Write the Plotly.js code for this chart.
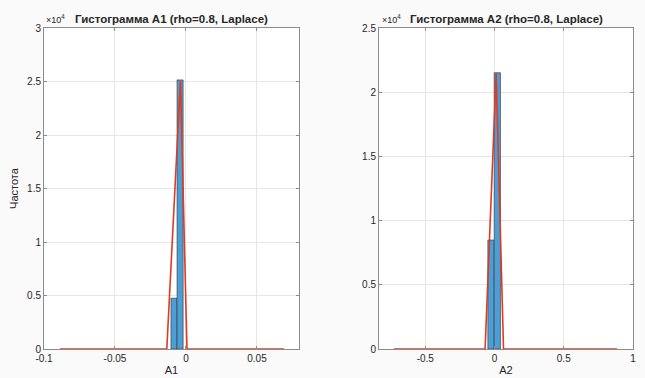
<!DOCTYPE html>
<html><head><meta charset="utf-8">
<script src="https://cdn.plot.ly/plotly-3.0.1.min.js"></script>
<style>html,body{margin:0;padding:0;background:#fafafa}</style>
</head><body>
<div id="chart" style="width:645px;height:378px"></div>
<script>
// Histogram A1
const a1BinCenters = [-0.00845, -0.00415];
const a1Counts = [4750, 25150];
const a1BinWidth = 0.0043;
const a1FitX = [-0.0887, -0.0135, -0.0039, 0.0007, 0.069];
const a1FitY = [0, 0, 25100, 0, 0];
// Histogram A2
const a2BinCenters = [-0.0253, 0.0203];
const a2Counts = [8490, 21520];
const a2BinWidth = 0.0456;
const a2FitX = [-0.727, -0.068, 0.012, 0.065, 0.885];
const a2FitY = [0, 0, 21500, 0, 0];

const yTicks1 = [0, 5000, 10000, 15000, 20000, 25000, 30000];
const yTickText1 = ['0', '0.5', '1', '1.5', '2', '2.5', '3'];
const yTicks2 = [0, 5000, 10000, 15000, 20000, 25000];
const yTickText2 = ['0', '0.5', '1', '1.5', '2', '2.5'];
const xTicks1 = [-0.1, -0.05, 0, 0.05];
const xTickText1 = ['-0.1', '-0.05', '0', '0.05'];
const xTicks2 = [-0.5, 0, 0.5, 1];
const xTickText2 = ['-0.5', '0', '0.5', '1'];

const barColor = 'rgba(77,158,212,1)';
const redColor = '#e03a22';
const textColor = '#262626';
const font = 'Liberation Sans, Arial, sans-serif';

const traces = [
  {type:'bar', x:a1BinCenters, y:a1Counts, width:a1BinWidth, xaxis:'x', yaxis:'y',
   marker:{color:barColor, line:{color:'#333', width:0.6}}, showlegend:false},
  {type:'scatter', mode:'lines', x:a1FitX, y:a1FitY, xaxis:'x', yaxis:'y',
   line:{color:redColor, width:1.6}, showlegend:false},
  {type:'bar', x:a2BinCenters, y:a2Counts, width:a2BinWidth, xaxis:'x2', yaxis:'y2',
   marker:{color:barColor, line:{color:'#333', width:0.6}}, showlegend:false},
  {type:'scatter', mode:'lines', x:a2FitX, y:a2FitY, xaxis:'x2', yaxis:'y2',
   line:{color:redColor, width:1.6}, showlegend:false}
];

const yDom = [29/378, 1 - 28/378];
const axCommon = {
  showline:true, linecolor:'#8c8c8c', linewidth:1, mirror:'ticks',
  ticks:'inside', ticklen:3, tickcolor:'#8c8c8c',
  showgrid:true, gridcolor:'#e6e6e6', gridwidth:1, zeroline:false,
  tickfont:{family:font, size:10, color:textColor}, tickmode:'array'
};

const layout = {
  width:645, height:378,
  margin:{l:0, r:0, t:0, b:0},
  paper_bgcolor:'#fafafa', plot_bgcolor:'#ffffff',
  bargap:0, barmode:'overlay',
  xaxis: Object.assign({}, axCommon, {domain:[44/645, 299/645], range:[-0.1, 0.0796],
    tickvals:xTicks1, ticktext:xTickText1, anchor:'y',
    title:{text:'A1', font:{family:font, size:11, color:textColor}, standoff:3}}),
  yaxis: Object.assign({}, axCommon, {domain:yDom, range:[0, 30000],
    tickvals:yTicks1, ticktext:yTickText1, anchor:'x',
    title:{text:'Частота', font:{family:font, size:11, color:textColor}, standoff:6}}),
  xaxis2: Object.assign({}, axCommon, {domain:[379/645, 633/645], range:[-0.834, 1.0],
    tickvals:xTicks2, ticktext:xTickText2, anchor:'y2',
    title:{text:'A2', font:{family:font, size:11, color:textColor}, standoff:3}}),
  yaxis2: Object.assign({}, axCommon, {domain:yDom, range:[0, 25000],
    tickvals:yTicks2, ticktext:yTickText2, anchor:'x2'}),
  annotations:[
    {text:'<b>Гистограмма A1 (rho=0.8, Laplace)</b>', xref:'paper', yref:'paper',
     x:171.5/645, y:1 - 19/378, xanchor:'center', yanchor:'middle', showarrow:false,
     font:{family:font, size:11.5, color:textColor}},
    {text:'<b>Гистограмма A2 (rho=0.8, Laplace)</b>', xref:'paper', yref:'paper',
     x:506/645, y:1 - 19/378, xanchor:'center', yanchor:'middle', showarrow:false,
     font:{family:font, size:11.5, color:textColor}},
    {text:'×10<sup>4</sup>', xref:'paper', yref:'paper', x:44/645, y:1 - 19/378,
     xanchor:'left', yanchor:'middle', showarrow:false,
     font:{family:font, size:9, color:textColor}},
    {text:'×10<sup>4</sup>', xref:'paper', yref:'paper', x:380/645, y:1 - 19/378,
     xanchor:'left', yanchor:'middle', showarrow:false,
     font:{family:font, size:9, color:textColor}}
  ]
};

Plotly.newPlot('chart', traces, layout, {displayModeBar:false, staticPlot:true});
</script>
</body></html>
